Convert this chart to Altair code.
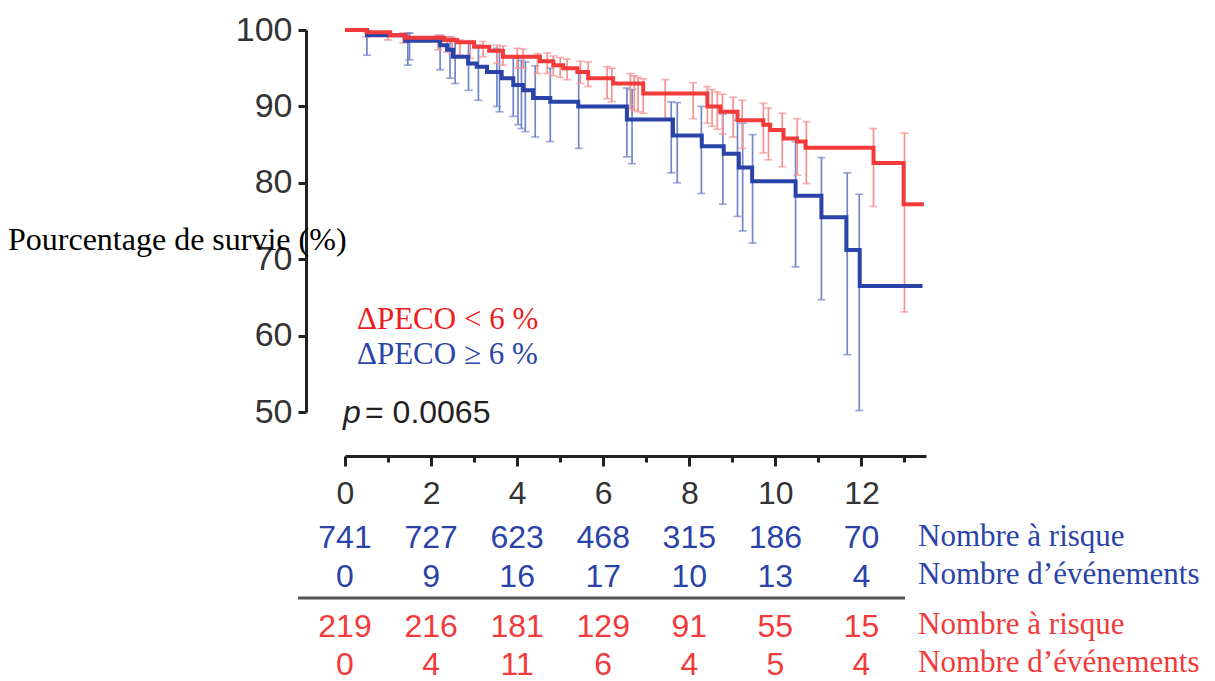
import altair as alt
import pandas as pd

# ---- Kaplan-Meier step curves (time in years, survival %) ----
blue_t = [0, 0.51, 1.4, 2.21, 2.37, 2.51, 2.86, 3.06, 3.30, 3.64, 3.91, 4.14, 4.37, 4.77, 5.42,
          6.55, 7.62, 8.29, 8.8, 9.15, 9.46, 10.47, 11.07, 11.65, 11.96, 13.42]
blue_v = [100, 99.3, 98.6, 98.0, 97.4, 96.5, 95.6, 95.2, 94.5, 93.7, 92.8, 92.1, 91.1, 90.6, 90.0,
          88.3, 86.2, 84.8, 83.8, 82.0, 80.2, 78.3, 75.5, 71.2, 66.5, 66.5]

red_t = [0, 0.5, 1.05, 1.4, 2.3, 2.6, 3.0, 3.35, 3.67, 4.53, 4.84, 5.07, 5.40, 5.65, 6.23,
         6.93, 8.42, 8.72, 9.12, 9.72, 9.88, 10.19, 10.5, 10.7, 12.28, 12.98, 13.45]
red_v = [100, 99.7, 99.3, 99.0, 98.7, 98.4, 97.8, 97.3, 96.5, 95.9, 95.4, 95.0, 94.5, 93.7, 93.0,
         91.7, 90.0, 89.3, 88.2, 87.6, 86.9, 85.8, 85.4, 84.6, 82.6, 77.2, 77.2]

# ---- error bars ----
blue_bar_t = [0.51, 1.46, 1.5, 2.21, 2.44, 2.56, 2.87, 3.1, 3.53, 3.59, 3.91, 4.02, 4.1, 4.19, 4.42,
              4.77, 5.43, 6.55, 6.67, 7.58, 7.72, 8.28, 8.78, 9.12, 9.24, 9.47, 10.47, 11.07, 11.67, 11.95]
blue_bar_lo = [96.7, 95.4, 96.1, 94.8, 93.7, 93.0, 92.1, 90.8, 90.0, 89.3, 88.7, 87.6, 87.1, 86.7, 86.0,
               85.4, 84.5, 83.4, 82.5, 81.3, 80.0, 78.6, 77.2, 75.6, 73.7, 72.1, 69.0, 64.7, 57.5, 50.2]
blue_bar_hi = [99.9, 99.6, 99.6, 99.3, 99.1, 98.8, 98.4, 98.0, 97.6, 97.3, 96.6, 96.3, 96.0, 95.8, 95.3,
               95.0, 94.5, 92.4, 92.2, 90.6, 90.5, 90.0, 89.0, 88.2, 87.8, 86.3, 85.4, 83.3, 81.3, 78.5]

red_bar_t = [0.49, 1.0, 1.35, 2.16, 2.37, 2.49, 2.67, 2.91, 3.21, 3.53, 3.67, 4.0, 4.14, 4.47, 4.7,
             4.84, 5.0, 5.16, 5.47, 5.65, 6.09, 6.2, 6.63, 6.72, 6.81, 6.93, 7.44, 8.09, 8.42, 8.53,
             8.65, 8.77, 9.02, 9.23, 9.72, 9.84, 10.16, 10.51, 10.72, 12.28, 13.0]
red_bar_lo = [99.1, 98.7, 98.3, 97.4, 97.1, 96.8, 96.7, 96.3, 96.5, 95.7, 95.4, 95.0, 95.0, 94.3, 94.3,
              94.0, 93.8, 93.5, 93.0, 92.6, 91.0, 90.6, 89.7, 89.5, 89.3, 89.1, 88.4, 88.4, 87.8, 87.4,
              87.0, 86.4, 86.0, 84.5, 83.9, 83.0, 82.1, 81.0, 79.9, 76.9, 63.1]
red_bar_hi = [100.0, 99.7, 99.6, 99.3, 99.1, 99.0, 98.7, 98.6, 98.5, 98.0, 97.9, 97.6, 97.5, 96.9, 97.0,
              96.6, 96.4, 96.2, 95.9, 95.8, 95.2, 95.0, 94.3, 94.0, 93.8, 93.6, 93.5, 93.1, 92.6, 92.2,
              91.9, 91.6, 91.2, 90.8, 90.4, 89.8, 89.1, 88.4, 88.0, 87.1, 86.5]

# ---- risk table ----
table_times = [0, 2, 4, 6, 8, 10, 12]
blue_at_risk = [741, 727, 623, 468, 315, 186, 70]
blue_events = [0, 9, 16, 17, 10, 13, 4]
red_at_risk = [219, 216, 181, 129, 91, 55, 15]
red_events = [0, 4, 11, 6, 4, 5, 4]

BLUE = "#2a43a8"
RED = "#f23a3a"
BLUE_BAR = "#7085cc"
RED_BAR = "#f39290"
AX = "#222222"

W, H = 581, 382
PAD_L, PAD_T = 345, 30

x_scale = alt.Scale(domain=[0, 13.5], nice=False, zero=False)
y_scale = alt.Scale(domain=[50, 100], nice=False, zero=False)

blue_df = pd.DataFrame({"t": blue_t, "v": blue_v})
red_df = pd.DataFrame({"t": red_t, "v": red_v})
bb_df = pd.DataFrame({"t": blue_bar_t, "lo": blue_bar_lo, "hi": blue_bar_hi})
rb_df = pd.DataFrame({"t": red_bar_t, "lo": red_bar_lo, "hi": red_bar_hi})

x_axis = alt.Axis(
    values=list(range(0, 14)),
    labelExpr="datum.value % 2 === 0 ? datum.label : ''",
    title=None, grid=False, offset=44, orient="bottom",
    domainColor=AX, domainWidth=3, tickColor=AX, tickWidth=3,
    tickSize={"condition": {"test": "datum.value % 2 === 0", "value": 10}, "value": 6},
    labelFont="Liberation Sans", labelFontSize=32, labelColor="#333333", labelPadding=12,
    labelFlush=False,
)
y_axis = alt.Axis(
    values=[50, 60, 70, 80, 90, 100], title=None, grid=False, offset=39,
    domainColor=AX, domainWidth=3, tickColor=AX, tickWidth=3, tickSize=8,
    labelFont="Liberation Sans", labelFontSize=34, labelColor="#333333", labelPadding=6,
    labelFlush=False,
)

base_x = alt.X("t:Q", scale=x_scale, axis=x_axis)
base_y = alt.Y("v:Q", scale=y_scale, axis=y_axis)


def bars(df, color):
    rule = alt.Chart(df).mark_rule(color=color, strokeWidth=1.7).encode(
        x=alt.X("t:Q", scale=x_scale), y=alt.Y("lo:Q", scale=y_scale), y2="hi:Q")
    cap_lo = alt.Chart(df).mark_tick(color=color, orient="horizontal", size=8, thickness=1.7).encode(
        x=alt.X("t:Q", scale=x_scale), y=alt.Y("lo:Q", scale=y_scale))
    cap_hi = alt.Chart(df).mark_tick(color=color, orient="horizontal", size=8, thickness=1.7).encode(
        x=alt.X("t:Q", scale=x_scale), y=alt.Y("hi:Q", scale=y_scale))
    return rule + cap_lo + cap_hi


blue_bars = bars(bb_df, BLUE_BAR)
red_bars = bars(rb_df, RED_BAR)

blue_line = alt.Chart(blue_df).mark_line(interpolate="step-after", color=BLUE, strokeWidth=4).encode(
    x=base_x, y=base_y)
red_line = alt.Chart(red_df).mark_line(interpolate="step-after", color=RED, strokeWidth=4).encode(
    x=alt.X("t:Q", scale=x_scale), y=alt.Y("v:Q", scale=y_scale))

# risk table numbers
rows = [
    (blue_at_risk, BLUE, 508),
    (blue_events, BLUE, 547),
    (red_at_risk, RED, 597),
    (red_events, RED, 635),
]
table_layers = []
for vals, col, ypix in rows:
    df = pd.DataFrame({"t": table_times, "n": [str(v) for v in vals]})
    table_layers.append(
        alt.Chart(df).mark_text(font="Liberation Sans", fontSize=32, color=col, align="center",
                                baseline="middle").encode(
            x=alt.X("t:Q", scale=x_scale), y=alt.value(ypix), text="n:N"))

row_labels = ["Nombre à risque", "Nombre d’événements", "Nombre à risque", "Nombre d’événements"]
row_colors = [BLUE, BLUE, RED, RED]
row_y = [507, 545, 595, 633]
label_layers = []
for lab, col, ypix in zip(row_labels, row_colors, row_y):
    label_layers.append(
        alt.Chart(pd.DataFrame({"s": [lab]})).mark_text(
            font="Liberation Serif", fontSize=31, color=col, align="left", baseline="middle").encode(
            x=alt.value(573), y=alt.value(ypix), text="s:N"))

separator = alt.Chart(pd.DataFrame({"a": [0]})).mark_rule(color="#555555", strokeWidth=3).encode(
    x=alt.value(-47), x2=alt.value(560), y=alt.value(568))

y_title = alt.Chart(pd.DataFrame({"s": ["Pourcentage de survie (%)"]})).mark_text(
    font="Liberation Serif", fontSize=32, color="#000000", align="left", baseline="middle").encode(
    x=alt.value(-337), y=alt.value(210), text="s:N")

legend_items = ["ΔPECO < 6 %", "ΔPECO ≥ 6 %"]
legend_colors = ["#ee1c1c", "#2a45a8"]
legend_y = [290, 325]
legend_layers = []
for lab, col, ypix in zip(legend_items, legend_colors, legend_y):
    legend_layers.append(
        alt.Chart(pd.DataFrame({"s": [lab]})).mark_text(
            font="Liberation Serif", fontSize=31, color=col, align="left", baseline="middle").encode(
            x=alt.value(12), y=alt.value(ypix), text="s:N"))

p_italic = alt.Chart(pd.DataFrame({"s": ["p"]})).mark_text(
    font="Liberation Sans", fontSize=32, fontStyle="italic", color=AX, align="left",
    baseline="middle").encode(x=alt.value(-2), y=alt.value(383), text="s:N")
p_value = alt.Chart(pd.DataFrame({"s": ["= 0.0065"]})).mark_text(
    font="Liberation Sans", fontSize=32, color=AX, align="left", baseline="middle").encode(
    x=alt.value(20), y=alt.value(383), text="s:N")

chart = alt.layer(
    blue_bars, red_bars, blue_line, red_line, *table_layers, *label_layers, separator, y_title,
    *legend_layers, p_italic, p_value,
).properties(
    width=W, height=H,
    autosize=alt.AutoSizeParams(type="none"),
    padding={"left": PAD_L, "top": PAD_T, "right": 1215 - PAD_L - W, "bottom": 681 - PAD_T - H},
).configure(background="white").configure_view(stroke=None, strokeWidth=0)

chart.save("out.html", embed_options={"renderer": "svg", "actions": False})
